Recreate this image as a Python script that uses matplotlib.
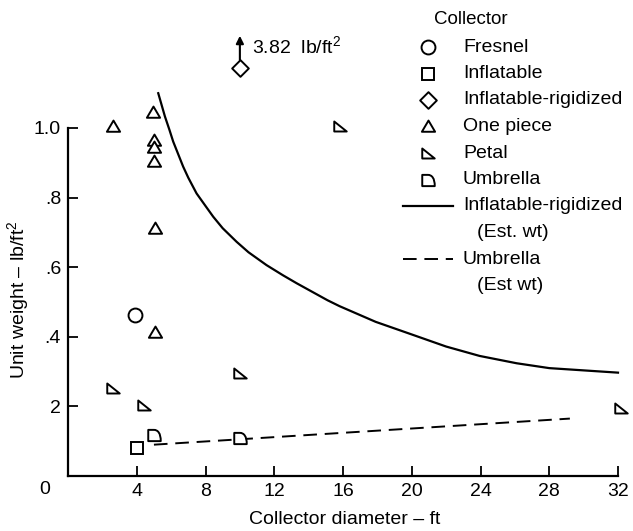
import matplotlib
matplotlib.use("Agg")
import matplotlib.pyplot as plt
from matplotlib.lines import Line2D
from matplotlib.path import Path

plt.rcParams.update({
    "font.family": ["Liberation Sans", "DejaVu Sans"],
    "mathtext.fontset": "custom",
    "mathtext.rm": "Liberation Sans",
    "mathtext.it": "Liberation Sans",
    "mathtext.bf": "Liberation Sans",
})

# ---------------------------------------------------------------------------
# Data
# ---------------------------------------------------------------------------
fresnel_x = [3.9]
fresnel_y = [0.463]
inflatable_x = [4.0]
inflatable_y = [0.08]
rigidized_x = [10.0]
rigidized_y = [1.172]
onepiece_x = [2.6, 4.95, 5.0, 5.0, 5.0, 5.05, 5.05]
onepiece_y = [1.005, 1.047, 0.966, 0.946, 0.905, 0.712, 0.413]
petal_x = [2.6, 4.4, 10.0, 15.8, 32.2]
petal_y = [0.252, 0.204, 0.295, 1.005, 0.195]
umbrella_x = [5.0, 10.0]
umbrella_y = [0.118, 0.108]

# estimated weight curves
rigid_est_x = [5.25, 5.64, 5.9, 6.12, 6.70, 7.0, 7.48, 8.0, 8.45, 9.0, 9.81,
               10.5, 11.55, 12.5, 13.3, 15.1, 15.8, 17.9, 20.1, 22.0, 23.95,
               26.1, 28.0, 32.0]
rigid_est_y = [1.10, 1.033, 0.995, 0.961, 0.889, 0.857, 0.812, 0.776, 0.745,
               0.712, 0.673, 0.643, 0.606, 0.577, 0.554, 0.505, 0.488, 0.443,
               0.405, 0.372, 0.345, 0.324, 0.310, 0.297]
umbrella_est_x = [5.0, 29.2]
umbrella_est_y = [0.09, 0.165]

arrow_value = "3.82"

x_ticks = [4, 8, 12, 16, 20, 24, 28, 32]
y_ticks = [0.2, 0.4, 0.6, 0.8, 1.0]
y_ticklabels = ["2", ".4", ".6", ".8", "1.0"]

# ---------------------------------------------------------------------------
# Markers
# ---------------------------------------------------------------------------
tri = Path([(-1, -0.8), (1, -0.8), (0, 0.9), (-1, -0.8)], closed=True)
petal_m = Path([(-1, -0.8), (-1, 0.8), (1, -0.8), (-1, -0.8)], closed=True)
umb_m = Path(
    [(-1, -0.9), (-1, 0.9), (-0.1, 0.9), (0.55, 0.9), (1, 0.35), (1, -0.9), (-1, -0.9)],
    [Path.MOVETO, Path.LINETO, Path.LINETO, Path.CURVE4, Path.CURVE4, Path.CURVE4,
     Path.CLOSEPOLY],
)
diam = Path([(0, 1), (1, 0), (0, -1), (-1, 0), (0, 1)], closed=True)

styles = {
    "Fresnel":              dict(marker="o", ms=10),
    "Inflatable":           dict(marker="s", ms=8.5),
    "Inflatable-rigidized": dict(marker=diam, ms=12),
    "One piece":            dict(marker=tri, ms=9.5),
    "Petal":                dict(marker=petal_m, ms=9),
    "Umbrella":             dict(marker=umb_m, ms=9),
}
mk = dict(linestyle="none", mfc="white", mec="black", mew=1.4, clip_on=False, zorder=4)

W, H = 633, 531
fig = plt.figure(figsize=(W / 100, H / 100), dpi=100)
ax = fig.add_axes([68 / W, 55 / H, 550 / W, 1.3 * 348 / H])
ax.set_xlim(0, 32)
ax.set_ylim(0, 1.3)

series = [
    ("Fresnel", fresnel_x, fresnel_y),
    ("Inflatable", inflatable_x, inflatable_y),
    ("Inflatable-rigidized", rigidized_x, rigidized_y),
    ("One piece", onepiece_x, onepiece_y),
    ("Petal", petal_x, petal_y),
    ("Umbrella", umbrella_x, umbrella_y),
]
for name, xs, ys in series:
    ax.plot(xs, ys, **styles[name], **mk)

ax.plot(rigid_est_x, rigid_est_y, color="black", lw=1.6, clip_on=False,
        solid_joinstyle="round")
ax.plot(umbrella_est_x, umbrella_est_y, color="black", lw=1.4,
        linestyle=(0, (7, 4)), clip_on=False)

# off-scale point
ax.annotate("", xy=(rigidized_x[0], 1.265), xytext=(rigidized_x[0], 1.195),
            arrowprops=dict(arrowstyle="-|>", lw=1.5, color="black",
                            mutation_scale=11, shrinkA=0, shrinkB=0),
            annotation_clip=False)
ax.text(10.7, 1.236, arrow_value + "  lb/ft$^2$", fontsize=14, va="center",
        ha="left")

# axes styling
for s in ["top", "right"]:
    ax.spines[s].set_visible(False)
ax.spines["left"].set_bounds(0, 1.0)
ax.spines["left"].set_linewidth(1.6)
ax.spines["bottom"].set_linewidth(1.6)
ax.set_xticks(x_ticks)
ax.set_xticklabels([str(t) for t in x_ticks])
ax.set_yticks(y_ticks)
ax.set_yticklabels(y_ticklabels)
ax.tick_params(direction="in", length=7, width=1.3, labelsize=14, pad=5)
ax.text(-1.35, -0.04, "0", fontsize=14, ha="center", va="center", clip_on=False)

fig.text(345 / W, 1 - 520 / H, "Collector diameter – ft", fontsize=14,
         ha="center", va="center")
fig.text(18 / W, 1 - 300 / H, "Unit weight – lb/ft$^2$", fontsize=14,
         ha="center", va="center", rotation=90)

# ---------------------------------------------------------------------------
# Legend (drawn by hand to match the original layout)
# ---------------------------------------------------------------------------
fig.text(471 / W, 1 - 20 / H, "Collector", fontsize=13.5, ha="center", va="center")
row0, step = 47, 26.5
for i, (name, _, _) in enumerate(series):
    y = 1 - (row0 + i * step) / H
    fig.add_artist(Line2D([428 / W], [y], transform=fig.transFigure,
                          **styles[name], linestyle="none", mfc="white",
                          mec="black", mew=1.4))
    fig.text(463 / W, y, name, fontsize=14, ha="left", va="center")

line_rows = [
    ("Inflatable-rigidized", "(Est. wt)", "-", 1.6),
    ("Umbrella", "(Est wt)", (0, (7, 4)), 1.4),
]
for j, (name, sub, ls, lw) in enumerate(line_rows):
    y = 1 - (row0 + (6 + 2 * j) * step) / H
    y2 = 1 - (row0 + (7 + 2 * j) * step) / H
    fig.add_artist(Line2D([403 / W, 453 / W], [y, y], transform=fig.transFigure,
                          color="black", lw=lw, linestyle=ls))
    fig.text(463 / W, y, name, fontsize=14, ha="left", va="center")
    fig.text(477 / W, y2, sub, fontsize=14, ha="left", va="center")

fig.savefig("out.png", dpi=100, facecolor="white")
